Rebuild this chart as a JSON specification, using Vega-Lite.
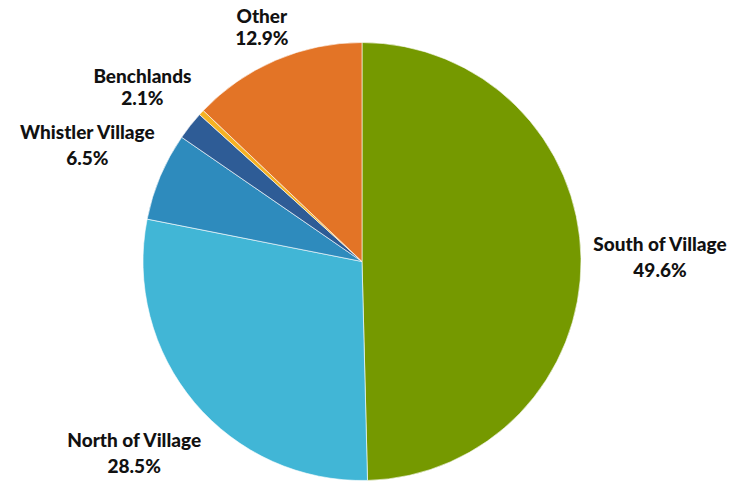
{
  "$schema": "https://vega.github.io/schema/vega-lite/v6.json",
  "width": 724,
  "height": 523,
  "padding": {"left": 0, "top": 0, "right": 11, "bottom": 0},
  "autosize": {"type": "none"},
  "background": "white",
  "view": {"stroke": null},
  "data": {
    "values": [
      {"category": "South of Village", "share": 0.496, "rank": 1},
      {"category": "North of Village", "share": 0.285, "rank": 2},
      {"category": "Whistler Village", "share": 0.065, "rank": 3},
      {"category": "Benchlands", "share": 0.021, "rank": 4},
      {"category": "Unlabelled", "share": 0.004, "rank": 5},
      {"category": "Other", "share": 0.129, "rank": 6}
    ]
  },
  "encoding": {
    "theta": {"field": "share", "type": "quantitative", "stack": true},
    "order": {"field": "rank", "type": "quantitative"}
  },
  "layer": [
    {
      "mark": {"type": "arc", "outerRadius": 219, "stroke": "white", "strokeWidth": 0.6},
      "encoding": {
        "color": {
          "field": "category",
          "type": "nominal",
          "legend": null,
          "scale": {
            "domain": ["South of Village", "North of Village", "Whistler Village", "Benchlands", "Unlabelled", "Other"],
            "range": ["#759900", "#41B6D6", "#2E8BBD", "#2E5C96", "#F5B223", "#E37426"]
          }
        }
      }
    },
    {
      "mark": {"type": "text", "radius": 298, "font": "Lato", "fontWeight": 900, "fontSize": 19, "color": "#111111", "dy": -13, "align": "center", "baseline": "middle"},
      "encoding": {
        "text": {
          "condition": {"test": "datum.rank > 3", "value": ""},
          "field": "category",
          "type": "nominal"
        }
      }
    },
    {
      "mark": {"type": "text", "radius": 298, "font": "Lato", "fontWeight": 900, "fontSize": 19, "color": "#111111", "dy": 13, "align": "center", "baseline": "middle"},
      "encoding": {
        "text": {
          "condition": {"test": "datum.rank > 3", "value": ""},
          "field": "share",
          "type": "quantitative",
          "format": ".1%"
        }
      }
    },
    {
      "mark": {"type": "text", "radius": 280, "font": "Lato", "fontWeight": 900, "fontSize": 19, "color": "#111111", "dy": -11, "align": "center", "baseline": "middle"},
      "encoding": {
        "text": {
          "condition": {"test": "datum.rank !== 4", "value": ""},
          "field": "category",
          "type": "nominal"
        }
      }
    },
    {
      "mark": {"type": "text", "radius": 280, "font": "Lato", "fontWeight": 900, "fontSize": 19, "color": "#111111", "dy": 11, "align": "center", "baseline": "middle"},
      "encoding": {
        "text": {
          "condition": {"test": "datum.rank !== 4", "value": ""},
          "field": "share",
          "type": "quantitative",
          "format": ".1%"
        }
      }
    },
    {
      "mark": {"type": "text", "radius": 254, "font": "Lato", "fontWeight": 900, "fontSize": 19, "color": "#111111", "dy": -11, "align": "center", "baseline": "middle"},
      "encoding": {
        "text": {
          "condition": {"test": "datum.rank !== 6", "value": ""},
          "field": "category",
          "type": "nominal"
        }
      }
    },
    {
      "mark": {"type": "text", "radius": 254, "font": "Lato", "fontWeight": 900, "fontSize": 19, "color": "#111111", "dy": 11, "align": "center", "baseline": "middle"},
      "encoding": {
        "text": {
          "condition": {"test": "datum.rank !== 6", "value": ""},
          "field": "share",
          "type": "quantitative",
          "format": ".1%"
        }
      }
    }
  ]
}
